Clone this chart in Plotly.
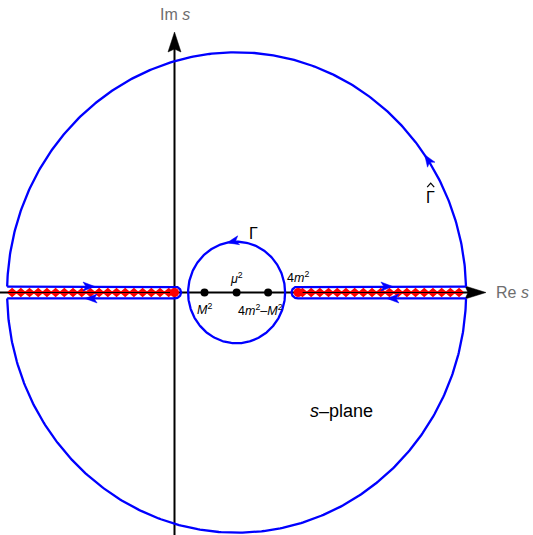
import numpy as np
import plotly.graph_objects as go

# ---- diagram values (in units of M^2) ----
point_labels = ["<i>M</i><sup>2</sup>", "<i>μ</i><sup>2</sup>", "4<i>m</i><sup>2</sup>–<i>M</i><sup>2</sup>"]
point_x = [1.0, 2.07, 3.12]          # M^2, mu^2, 4m^2 - M^2
branch_x = [0.0, 4.12]               # branch points: 0 and 4m^2
branch_label = "4<i>m</i><sup>2</sup>"
center_x = 2.07                      # contours centred at mu^2
R_big = 7.65                         # radius of Gamma-hat
R_small = 1.617                      # radius of Gamma
gap = 0.19                           # half-width of keyhole
cap_r = 0.22

# pixel scale of the frame
W, H = 533, 535
x0px, y0px, kx, ky = 174.5, 292.5, 30.0, 31.4
xr = [-x0px / kx, (W - x0px) / kx]
yr = [-(H - y0px) / ky, y0px / ky]

BLUE = "#0000ff"
RED = "#ff0000"
LW = 2.3
fig = go.Figure()


def line(x, y, color, width):
    fig.add_trace(go.Scatter(x=x, y=y, mode="lines", line=dict(color=color, width=width),
                             hoverinfo="skip", showlegend=False))


def poly(x, y, color, lw=0.5):
    fig.add_trace(go.Scatter(x=list(x) + [x[0]], y=list(y) + [y[0]], mode="lines", fill="toself",
                             fillcolor=color, line=dict(color=color, width=lw),
                             hoverinfo="skip", showlegend=False))


def head(xt, yt, ang, color, L=12, Wd=4.5, notch=3):
    a = np.radians(ang)
    d = np.array([np.cos(a), np.sin(a)])
    n = np.array([-d[1], d[0]])
    pts = [np.zeros(2), -L * d + Wd * n, -(L - notch) * d, -L * d - Wd * n]
    xs = [xt + p[0] / kx for p in pts]
    ys = [yt + p[1] / ky for p in pts]
    poly(xs, ys, color)


def tangent_angle(t):
    # CCW tangent direction in screen space
    return np.degrees(np.arctan2(np.cos(t) * ky, -np.sin(t) * kx))


# ---- axes ----
x_tip = (486 - x0px) / kx
line([xr[0], (470 - x0px) / kx], [0, 0], "black", 2)
head(x_tip, 0, 0, "black", L=21, Wd=6.5, notch=3)
y_tip = (y0px - 32) / ky
line([0, 0], [yr[0], (y0px - 48) / ky], "black", 2)
head(0, y_tip, 90, "black", L=20, Wd=6.5, notch=3)

# ---- branch cuts (zigzag) ----
def zigzag(xa, xb, p=0.29, a=0.15, v=0.03):
    xs = np.arange(xa, xb, p / 2)
    top = np.where(np.arange(len(xs)) % 2 == 1, a, v)
    X = np.concatenate([xs, xs[::-1]])
    Y = np.concatenate([top, -top[::-1]])
    poly(X, Y, RED, lw=0)


a1 = np.arcsin(gap / R_big)
x_left = center_x - R_big * np.cos(a1)
x_right = center_x + R_big * np.cos(a1)
zigzag(x_left + 0.02, branch_x[0])
zigzag(branch_x[1], x_right - 0.02)
line([xr[0], (470 - x0px) / kx], [0, 0], "black", 1)

# ---- contours ----
t = np.linspace(a1, np.pi - a1, 300)
line(center_x + R_big * np.cos(t), R_big * np.sin(t), BLUE, LW)
t = np.linspace(np.pi + a1, 2 * np.pi - a1, 300)
line(center_x + R_big * np.cos(t), R_big * np.sin(t), BLUE, LW)

tc = np.linspace(np.pi / 2, -np.pi / 2, 60)
kx_l = np.concatenate([[x_left], branch_x[0] + cap_r * np.cos(tc), [x_left]])
ky_l = np.concatenate([[gap], gap * np.sin(tc), [-gap]])
line(kx_l, ky_l, BLUE, LW)
tc2 = np.linspace(np.pi / 2, 3 * np.pi / 2, 60)
kx_r = np.concatenate([[x_right], branch_x[1] + cap_r * np.cos(tc2), [x_right]])
ky_r = np.concatenate([[gap], gap * np.sin(tc2), [-gap]])
line(kx_r, ky_r, BLUE, LW)

t = np.linspace(0, 2 * np.pi, 300)
line(center_x + R_small * np.cos(t), R_small * np.sin(t), BLUE, LW)

# ---- contour arrows ----
ts = np.radians(101.5)
head(center_x + R_small * np.cos(ts), R_small * np.sin(ts), tangent_angle(ts), BLUE)
tb = np.radians(35)
head(center_x + R_big * np.cos(tb), R_big * np.sin(tb), tangent_angle(tb), BLUE)
head(-2.65, gap, 0, BLUE)
head(-2.98, -gap, 180, BLUE)
head(7.28, gap, 0, BLUE)
head(7.08, -gap, 180, BLUE)

# ---- points ----
fig.add_trace(go.Scatter(x=branch_x, y=[0, 0], mode="markers",
                         marker=dict(color=RED, size=9), hoverinfo="skip", showlegend=False))
fig.add_trace(go.Scatter(x=point_x, y=[0] * len(point_x), mode="markers",
                         marker=dict(color="black", size=8), hoverinfo="skip", showlegend=False))

# ---- labels ----
FONT = "Liberation Sans, Arial, sans-serif"
ann = []
def txt(x, y, s, size=12.5, color="black", xanchor="center"):
    ann.append(dict(x=x, y=y, xref="x", yref="y", text=s, showarrow=False,
                    font=dict(family=FONT, size=size, color=color), xanchor=xanchor, yanchor="middle"))

txt(point_x[0], -0.52, point_labels[0])
txt(point_x[1] - 0.02, 0.45, point_labels[1])
txt(point_x[2] - 0.27, -0.57, point_labels[2])
txt(branch_x[1], 0.5, branch_label)
txt(2.63, 1.87, "Γ", size=16)
txt(8.52, 3.02, "Γ", size=16)
# circumflex over the second Gamma
gx, gy = 8.52 + 0.02, 3.02 + 11 / ky
line([gx - 3.5 / kx, gx, gx + 3.5 / kx], [gy - 0.5 / ky, gy + 3.5 / ky, gy - 0.5 / ky], "black", 1.2)
txt(5.55, -3.77, "<i>s</i>–plane", size=18)
txt(0, 8.84, "Im <i>s</i>", size=16, color="#6e6e6e")
txt(10.65, 0, "Re <i>s</i>", size=16, color="#6e6e6e", xanchor="left")

fig.update_layout(width=W, height=H, margin=dict(l=0, r=0, t=0, b=0), autosize=False,
                  plot_bgcolor="white", paper_bgcolor="white", annotations=ann,
                  xaxis=dict(range=xr, visible=False, fixedrange=True),
                  yaxis=dict(range=yr, visible=False, fixedrange=True))
fig.write_html("out.html", config={"displayModeBar": False},
               post_script="document.body.style.margin='0';document.body.style.overflow='hidden';")
